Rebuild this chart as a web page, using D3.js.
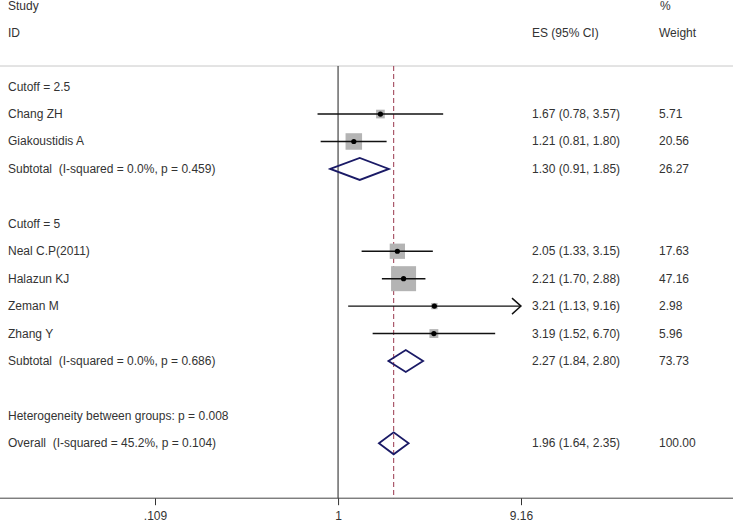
<!DOCTYPE html>
<html>
<head>
<meta charset="utf-8">
<script src="https://cdn.jsdelivr.net/npm/d3@7/dist/d3.min.js"></script>
<style>
html,body{margin:0;padding:0;background:#fff;}
text{font-family:"Liberation Sans",Arial,sans-serif;font-size:12px;fill:#333;white-space:pre;}
</style>
</head>
<body>
<svg id="chart" width="733" height="522"></svg>
<script>
// Row labels (in order, top to bottom)
const rowLabels = ["Cutoff = 2.5","Chang ZH","Giakoustidis A","Subtotal  (I-squared = 0.0%, p = 0.459)","",
  "Cutoff = 5","Neal C.P(2011)","Halazun KJ","Zeman M","Zhang Y","Subtotal  (I-squared = 0.0%, p = 0.686)","",
  "Heterogeneity between groups: p = 0.008","Overall  (I-squared = 45.2%, p = 0.104)"];
// Row type: h=header, s=study, d=diamond(pooled), t=text only
const rowTypes = ["h","s","s","d","","h","s","s","s","s","d","","t","d"];
const rowES    = [null,1.67,1.21,1.30,null,null,2.05,2.21,3.21,3.19,2.27,null,null,1.96];
const rowLo    = [null,0.78,0.81,0.91,null,null,1.33,1.70,1.13,1.52,1.84,null,null,1.64];
const rowHi    = [null,3.57,1.80,1.85,null,null,3.15,2.88,9.16,6.70,2.80,null,null,2.35];
const rowWeight= [null,5.71,20.56,26.27,null,null,17.63,47.16,2.98,5.96,73.73,null,null,100.00];
const esText   = ["","1.67 (0.78, 3.57)","1.21 (0.81, 1.80)","1.30 (0.91, 1.85)","","",
  "2.05 (1.33, 3.15)","2.21 (1.70, 2.88)","3.21 (1.13, 9.16)","3.19 (1.52, 6.70)","2.27 (1.84, 2.80)","","","1.96 (1.64, 2.35)"];
const wText    = ["","5.71","20.56","26.27","","","17.63","47.16","2.98","5.96","73.73","","","100.00"];
const tickValues = [0.109, 1, 9.16];
const tickLabels = [".109", "1", "9.16"];
const overallES = 1.96;

const svg = d3.select("#chart");
const x = d3.scaleLog().domain([0.109, 9.16]).range([155, 521]);
const y = d3.scaleLinear().domain([0, 15]).range([86.6, 498.2]);
const sq = d3.scaleSqrt().domain([0, 47.16]).range([0, 25]);
const esX = 532, wX = 659;

// top separator
svg.append("line").attr("x1",0).attr("x2",733).attr("y1",66).attr("y2",66)
  .attr("stroke","#c8c8c8").attr("stroke-width",1);

// headers
svg.append("text").attr("x",8).attr("y",6).attr("dominant-baseline","central").text("Study");
svg.append("text").attr("x",8).attr("y",33).attr("dominant-baseline","central").text("ID");
svg.append("text").attr("x",esX).attr("y",33).attr("dominant-baseline","central").text("ES (95% CI)");
svg.append("text").attr("x",wX+1).attr("y",6).attr("dominant-baseline","central").text("%");
svg.append("text").attr("x",wX).attr("y",33).attr("dominant-baseline","central").text("Weight");

// null line
svg.append("line").attr("x1",x(1)).attr("x2",x(1)).attr("y1",66).attr("y2",y(15))
  .attr("stroke","#444").attr("stroke-width",1.2);
// overall dashed line
svg.append("line").attr("x1",x(overallES)).attr("x2",x(overallES)).attr("y1",66).attr("y2",y(15))
  .attr("stroke","#a34a5e").attr("stroke-width",1.1).attr("stroke-dasharray","5,3");

// axis
const axis = d3.axisBottom(x).tickValues(tickValues).tickFormat((d,i)=>tickLabels[i]).tickSize(7).tickSizeOuter(0);
const ag = svg.append("g").attr("transform",`translate(0,${y(15)})`).call(axis);
ag.select(".domain").remove();
ag.selectAll(".tick line").attr("stroke","#333");
ag.selectAll(".tick text").attr("y",13).style("font-size","12px").attr("fill","#333");
svg.append("line").attr("x1",0).attr("x2",733).attr("y1",y(15)).attr("y2",y(15))
  .attr("stroke","#444").attr("stroke-width",1);

// rows
rowLabels.forEach((lab,i)=>{
  const yy = y(i);
  if (lab) svg.append("text").attr("x",8).attr("y",yy).attr("dominant-baseline","central").text(lab);
  if (esText[i]) svg.append("text").attr("x",esX).attr("y",yy).attr("dominant-baseline","central").text(esText[i]);
  if (wText[i]) svg.append("text").attr("x",wX).attr("y",yy).attr("dominant-baseline","central").text(wText[i]);
  const t = rowTypes[i];
  if (t === "s") {
    const s = sq(rowWeight[i]);
    svg.append("rect").attr("x",x(rowES[i])-s/2).attr("y",yy-s/2).attr("width",s).attr("height",s)
      .attr("fill","#b4b4b4");
    svg.append("line").attr("x1",x(rowLo[i])).attr("x2",x(rowHi[i])).attr("y1",yy).attr("y2",yy)
      .attr("stroke","#111").attr("stroke-width",1.4);
    if (rowHi[i] >= 9.16) {
      const xe = x(9.16);
      svg.append("path").attr("d",`M${xe-9},${yy-8}L${xe},${yy}L${xe-9},${yy+8}`)
        .attr("fill","none").attr("stroke","#111").attr("stroke-width",1.4);
    }
    svg.append("circle").attr("cx",x(rowES[i])).attr("cy",yy).attr("r",2.6).attr("fill","#000");
  } else if (t === "d") {
    const h = 11;
    svg.append("path").attr("d",`M${x(rowLo[i])},${yy}L${x(rowES[i])},${yy-h}L${x(rowHi[i])},${yy}L${x(rowES[i])},${yy+h}Z`)
      .attr("fill","none").attr("stroke","#1a1a66").attr("stroke-width",1.8);
  }
});
</script>
</body>
</html>
